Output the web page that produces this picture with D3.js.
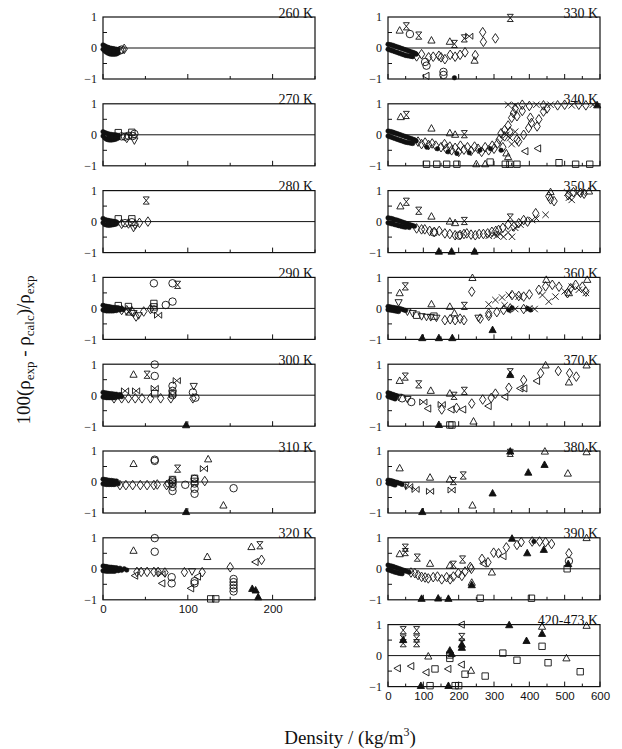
<!DOCTYPE html>
<html>
<head>
<meta charset="utf-8">
<script src="https://cdn.jsdelivr.net/npm/d3@7"></script>
<style>
  body { margin: 0; background: #fff; }
</style>
</head>
<body>
<div id="chart"></div>
<script>
// panel titles and tick labels
var leftTitles = ["260 K", "270 K", "280 K", "290 K", "300 K", "310 K", "320 K"];
var rightTitles = ["330 K", "340 K", "350 K", "360 K", "370 K", "380 K", "390 K", "420-473 K"];
var leftTicks = [0, 100, 200];
var rightTicks = [0, 100, 200, 300, 400, 500, 600];
var yTicks = [-1, 0, 1];

// points: [density, deviation %, symbol]
// o circle, d diamond, t triangle, T filled triangle, v down triangle, < left triangle,
// h hourglass, b bowtie, x cross, s square, . small filled marker
var p260 = [[0,0.1,"."],[0,-0.04,"."],[2,0.07,"."],[2,-0.1,"."],[4,0.04,"."],[4,-0.14,"."],[6,0.02,"."],[6,-0.17,"."],
  [8,0,"."],[8,-0.19,"."],[10,-0.01,"."],[10,-0.2,"."],[12,-0.02,"."],[12,-0.2,"."],[14,-0.03,"."],[14,-0.2,"."],
  [16,-0.04,"."],[16,-0.19,"."],[18,-0.05,"."],[18,-0.16,"."],[5,-0.08,"."],[9,-0.1,"."],[13,-0.11,"."],[17,-0.11,"."],
  [20,-0.08,"o"],[22,-0.05,"o"],[25,-0.03,"d"]];
var p270 = [[0,0.1,"."],[0,-0.04,"."],[2,0.07,"."],[2,-0.1,"."],[4,0.05,"."],[4,-0.14,"."],[6,0.03,"."],[6,-0.16,"."],
  [8,0.02,"."],[8,-0.17,"."],[10,0.01,"."],[10,-0.17,"."],[12,0,"."],[12,-0.16,"."],[14,0,"."],[14,-0.15,"."],
  [16,-0.01,"."],[16,-0.13,"."],[18,-0.02,"."],[18,-0.1,"."],[7,-0.07,"."],[11,-0.08,"."],[15,-0.07,"."],
  [18,0.07,"s"],[22,-0.05,"o"],[26,-0.06,"o"],[30,-0.03,"o"],[28,-0.1,"d"],[34,0.08,"s"],[35,-0.04,"o"],
  [37,0.03,"o"],[37,-0.18,"v"]];
var p280 = [[0,0.1,"."],[0,-0.04,"."],[2,0.07,"."],[2,-0.09,"."],[4,0.05,"."],[4,-0.11,"."],[6,0.04,"."],[6,-0.12,"."],
  [8,0.03,"."],[8,-0.12,"."],[10,0.02,"."],[10,-0.11,"."],[12,0.01,"."],[12,-0.1,"."],[14,0,"."],[14,-0.09,"."],
  [16,-0.01,"."],[16,-0.07,"."],[6,-0.04,"."],[11,-0.05,"."],
  [18,0.09,"s"],[22,-0.07,"d"],[26,-0.05,"o"],[30,-0.06,"d"],[34,0.09,"s"],[34,-0.02,"o"],[36,-0.2,"v"],
  [38,-0.09,"d"],[43,-0.04,"d"],[53,0,"d"],[51,0.68,"h"]];
var p290 = [[0,0.1,"."],[0,-0.05,"."],[2,0.08,"."],[2,-0.07,"."],[4,0.07,"."],[4,-0.08,"."],[6,0.06,"."],[6,-0.08,"."],
  [8,0.05,"."],[8,-0.08,"."],[10,0.04,"."],[10,-0.08,"."],[12,0.03,"."],[12,-0.08,"."],[14,0.03,"."],[14,-0.07,"."],
  [16,0.02,"."],[16,-0.07,"."],[18,0.02,"."],[20,-0.05,"."],[22,0,"."],[24,-0.04,"."],
  [18,0.09,"s"],[22,-0.05,"d"],[28,-0.06,"d"],[30,0.06,"s"],[30,-0.1,"h"],[34,-0.09,"d"],[36,-0.15,"v"],
  [39,-0.26,"d"],[42,-0.22,"v"],[48,-0.1,"d"],[56,-0.02,"d"],[60,0.16,"s"],[60,0.05,"s"],[60,-0.03,"o"],
  [60,0.81,"o"],[65,-0.22,"b"],[74,0.11,"o"],[82,0.22,"o"],[82,0.81,"o"],[88,0.76,"h"]];
var p300 = [[0,0.09,"."],[0,-0.06,"."],[2,0.08,"."],[2,-0.07,"."],[4,0.07,"."],[4,-0.08,"."],[6,0.06,"."],[6,-0.08,"."],
  [8,0.05,"."],[8,-0.08,"."],[10,0.05,"."],[10,-0.08,"."],[12,0.04,"."],[12,-0.08,"."],[14,0.03,"."],[14,-0.08,"."],
  [16,0.03,"."],[18,-0.06,"."],[20,0.02,"."],[22,-0.05,"."],
  [13,-0.1,"d"],[22,-0.1,"d"],[30,-0.1,"d"],[38,-0.1,"d"],[46,-0.1,"d"],[56,-0.1,"d"],[68,-0.1,"d"],[80,-0.1,"d"],
  [106,-0.1,"d"],[26,0.14,"b"],[39,0.14,"b"],[61,0.22,"b"],[87,0.47,"b"],[36,0.66,"t"],[52,0.66,"h"],
  [61,0.99,"o"],[61,0.62,"o"],[61,0.05,"s"],[82,0.3,"o"],[82,0.14,"o"],[82,0,"o"],[82,0.05,"s"],
  [107,0.3,"v"],[106,0.09,"o"],[109,-0.08,"o"],[98,-0.97,"T"]];
var p310 = [[0,0.09,"."],[0,-0.06,"."],[2,0.08,"."],[2,-0.07,"."],[4,0.07,"."],[4,-0.08,"."],[6,0.06,"."],[6,-0.08,"."],
  [8,0.05,"."],[8,-0.08,"."],[10,0.05,"."],[10,-0.08,"."],[12,0.04,"."],[12,-0.08,"."],[14,0.03,"."],[14,-0.08,"."],
  [16,0.03,"."],[18,-0.06,"."],
  [20,-0.1,"d"],[27,-0.1,"d"],[35,-0.1,"d"],[44,-0.1,"d"],[52,-0.1,"d"],[60,-0.1,"d"],[64,-0.08,"d"],[75,-0.1,"d"],
  [78,-0.05,"o"],[36,0.58,"t"],[61,0.72,"o"],[61,0.68,"o"],[88,0.43,"h"],[124,0.73,"t"],[119,0.43,"b"],
  [120,0.03,"d"],[82,0.05,"o"],[82,-0.05,"o"],[82,-0.16,"o"],[82,-0.29,"o"],[82,0.08,"s"],[82,0,"s"],
  [108,0.1,"o"],[108,-0.05,"o"],[108,-0.22,"o"],[108,-0.38,"o"],[108,0.12,"s"],[108,0.02,"s"],
  [97,-0.09,"o"],[154,-0.2,"o"],[142,-0.76,"t"],[98,-0.97,"T"]];
var p320 = [[0,0.09,"."],[0,-0.06,"."],[2,0.08,"."],[2,-0.07,"."],[4,0.07,"."],[4,-0.08,"."],[6,0.06,"."],[6,-0.08,"."],
  [8,0.05,"."],[8,-0.08,"."],[10,0.05,"."],[10,-0.08,"."],[12,0.04,"."],[12,-0.08,"."],[14,0.03,"."],[14,-0.08,"."],
  [16,0.03,"."],[18,-0.06,"."],[20,0.02,"."],[22,-0.05,"."],[25,0,"."],[28,-0.04,"."],
  [36,0.58,"t"],[61,0.99,"o"],[61,0.55,"o"],[123,0.38,"t"],[175,0.7,"t"],[185,0.76,"h"],[187,0.29,"d"],
  [180,0.22,"<"],[150,0.05,"d"],[154,-0.33,"o"],[154,-0.43,"o"],[154,-0.53,"o"],[154,-0.63,"o"],[154,-0.73,"o"],
  [176,-0.65,"T"],[180,-0.7,"T"],[183,-0.92,"T"],[127,-0.97,"s"],[133,-0.97,"s"],[104,-0.63,"<"],
  [108,-0.4,"o"],[108,-0.47,"o"],[69,-0.16,"b"],[81,-0.27,"o"],[81,-0.47,"o"],[70,-0.47,"<"],[38,-0.22,"<"],
  [40,-0.1,"d"],[45,-0.1,"d"],[52,-0.1,"d"],[60,-0.1,"d"],[65,-0.1,"d"],[73,-0.12,"d"],[96,-0.11,"d"],
  [117,-0.11,"d"],[105,-0.08,"v"],[112,-0.25,"<"]];

var p330 = [[0,0.12,"."],[0,-0.04,"."],[5,0.11,"."],[5,-0.06,"."],[10,0.1,"."],[10,-0.08,"."],[15,0.08,"."],[15,-0.1,"."],
  [20,0.06,"."],[20,-0.12,"."],[25,0.04,"."],[25,-0.14,"."],[30,0.02,"."],[30,-0.16,"."],[35,0,"."],[35,-0.18,"."],
  [40,-0.02,"."],[40,-0.2,"."],[45,-0.04,"."],[45,-0.22,"."],[50,-0.06,"."],[50,-0.24,"."],[55,-0.08,"."],
  [55,-0.25,"."],[60,-0.1,"."],[60,-0.26,"."],[65,-0.12,"."],[65,-0.27,"."],[70,-0.14,"."],[70,-0.28,"."],
  [75,-0.16,"."],[80,-0.2,"."],
  [33,0.56,"t"],[52,0.7,"h"],[62,0.45,"o"],[87,0.4,"h"],[123,0.24,"t"],[175,0.2,"t"],[188,0.13,"h"],
  [216,0.31,"h"],[230,0.38,"b"],[268,0.51,"d"],[270,0.2,"d"],[304,0.31,"d"],[218,-0.14,"d"],[247,-0.23,"d"],
  [245,-0.41,"t"],[346,0.97,"h"],[81,-0.27,"d"],[95,-0.2,"d"],[115,-0.3,"d"],[128,-0.28,"d"],[144,-0.25,"d"],
  [150,-0.3,"d"],[161,-0.36,"d"],[176,-0.22,"d"],[190,-0.28,"d"],[204,-0.22,"d"],[109,-0.57,"o"],
  [105,-0.45,"o"],[157,-0.77,"o"],[157,-0.87,"o"],[188,-0.96,"."],[109,-0.9,"<"]];
var p340 = [[0,0.12,"."],[0,-0.04,"."],[5,0.11,"."],[5,-0.06,"."],[10,0.1,"."],[10,-0.08,"."],[15,0.08,"."],[15,-0.1,"."],
  [20,0.06,"."],[20,-0.12,"."],[25,0.04,"."],[25,-0.14,"."],[30,0.02,"."],[30,-0.16,"."],[35,0,"."],[35,-0.18,"."],
  [40,-0.02,"."],[40,-0.2,"."],[45,-0.04,"."],[45,-0.22,"."],[50,-0.06,"."],[50,-0.24,"."],[55,-0.08,"."],
  [55,-0.25,"."],[60,-0.1,"."],[60,-0.26,"."],[65,-0.12,"."],[65,-0.27,"."],[70,-0.14,"."],[70,-0.28,"."],
  [75,-0.16,"."],[80,-0.2,"."],
  [36,0.57,"t"],[52,0.64,"h"],[123,0.2,"t"],[175,0.05,"t"],[216,0.02,"h"],[190,0,"t"],
  [85,-0.22,"d"],[95,-0.3,"d"],[105,-0.25,"d"],[115,-0.33,"d"],[125,-0.28,"d"],[135,-0.35,"d"],[150,-0.4,"d"],
  [160,-0.3,"d"],[165,-0.45,"d"],[175,-0.38,"d"],[180,-0.5,"d"],[190,-0.42,"d"],[200,-0.55,"d"],[205,-0.35,"d"],
  [215,-0.48,"d"],[225,-0.4,"d"],[235,-0.52,"d"],[245,-0.38,"d"],[255,-0.45,"d"],[265,-0.55,"d"],[275,-0.4,"d"],
  [285,-0.5,"d"],[295,-0.35,"d"],[300,-0.45,"d"],[310,-0.28,"d"],[315,-0.15,"d"],[325,-0.4,"d"],[330,-0.05,"d"],
  [110,-0.4,"."],[140,-0.45,"."],[170,-0.55,"."],[195,-0.6,"."],[230,-0.58,"."],[260,-0.5,"."],[290,-0.45,"."],
  [320,-0.5,"."],[320,0.05,"d"],[330,0.15,"d"],[340,0.3,"d"],[350,0.55,"d"],[355,0.7,"d"],[360,0.85,"d"],
  [345,0.1,"d"],[335,0,"x"],[345,-0.1,"x"],[350,-0.3,"x"],[360,0.1,"x"],[365,-0.15,"d"],[370,-0.22,"d"],
  [384,0,"d"],[398,0.22,"d"],[406,0.38,"d"],[403,0.55,"d"],[422,0.27,"d"],[427,0.5,"d"],[380,0.77,"d"],
  [365,0.6,"d"],[440,0.75,"d"],[450,0.85,"d"],[340,0.97,"x"],[360,0.95,"x"],[380,0.97,"d"],[400,0.93,"d"],
  [420,0.97,"x"],[440,0.95,"d"],[460,0.97,"x"],[480,0.95,"d"],[500,0.97,"d"],[520,0.95,"x"],[540,0.97,"d"],
  [560,0.95,"d"],[580,0.97,"x"],[592,0.95,"T"],[389,-0.53,"<"],[425,-0.44,"<"],[340,-0.72,"t"],[335,-0.6,"t"],
  [109,-0.95,"s"],[138,-0.95,"s"],[166,-0.95,"s"],[195,-0.95,"s"],[250,-0.95,"t"],[275,-0.95,"t"],
  [289,-0.88,"s"],[332,-0.95,"s"],[345,-0.95,"s"],[365,-0.95,"s"],[484,-0.9,"s"],[531,-0.95,"s"],[571,-0.95,"s"]];
var p350 = [[0,0.12,"."],[0,-0.04,"."],[5,0.11,"."],[5,-0.05,"."],[10,0.1,"."],[10,-0.07,"."],[15,0.08,"."],[15,-0.08,"."],
  [20,0.06,"."],[20,-0.1,"."],[25,0.05,"."],[25,-0.11,"."],[30,0.03,"."],[30,-0.13,"."],[35,0.01,"."],[35,-0.14,"."],
  [40,-0.01,"."],[40,-0.16,"."],[45,-0.03,"."],[45,-0.17,"."],[50,-0.05,"."],[50,-0.18,"."],[55,-0.07,"."],
  [60,-0.09,"."],[60,-0.19,"."],[65,-0.11,"."],[70,-0.13,"."],[75,-0.15,"."],
  [35,0.49,"t"],[52,0.64,"h"],[87,0.35,"h"],[123,0.16,"t"],[175,0,"t"],[216,0.02,"h"],[190,-0.05,"t"],
  [81,-0.22,"d"],[95,-0.25,"d"],[104,-0.25,"d"],[118,-0.3,"d"],[131,-0.33,"d"],[145,-0.3,"d"],[161,-0.38,"d"],
  [175,-0.4,"d"],[190,-0.44,"d"],[204,-0.43,"d"],[215,-0.4,"d"],[223,-0.38,"d"],[235,-0.42,"d"],[247,-0.44,"d"],
  [258,-0.4,"d"],[270,-0.4,"d"],[282,-0.38,"d"],[294,-0.33,"d"],[305,-0.3,"d"],[313,-0.27,"d"],[325,-0.2,"d"],
  [340,-0.1,"d"],[130,-0.35,"o"],[200,-0.45,"o"],[285,-0.46,"x"],[300,-0.42,"x"],[308,-0.46,"x"],[318,-0.4,"x"],
  [327,-0.49,"x"],[340,-0.35,"x"],[351,-0.49,"x"],[360,-0.2,"x"],[375,-0.1,"x"],[346,0.13,"h"],[356,-0.16,"d"],
  [370,-0.05,"d"],[384,0.05,"d"],[395,0,"d"],[418,0.27,"d"],[455,0.82,"d"],[470,0.66,"d"],[460,0.72,"d"],
  [408,0.05,"x"],[420,0.1,"x"],[446,0.22,"x"],[508,0.93,"x"],[512,0.77,"x"],[520,0.7,"x"],[550,0.93,"x"],
  [535,0.9,"x"],[569,0.97,"t"],[460,0.95,"t"],[510,0.85,"d"],[525,0.95,"d"],[545,0.93,"d"],[555,0.9,"d"],
  [144,-0.97,"T"],[180,-0.97,"T"],[245,-0.97,"T"]];
var p360 = [[0,0.06,"."],[0,-0.04,"."],[5,0.05,"."],[5,-0.05,"."],[10,0.04,"."],[10,-0.06,"."],[15,0.03,"."],[15,-0.07,"."],
  [20,0.02,"."],[20,-0.08,"."],[25,0.01,"."],[25,-0.09,"."],[30,0,"."],[30,-0.1,"."],[35,-0.01,"."],[40,-0.03,"."],
  [45,-0.05,"."],[50,-0.07,"."],
  [33,0.49,"t"],[49,0.71,"h"],[30,0.2,"v"],[123,0.13,"t"],[175,0.05,"t"],[216,0.08,"h"],[239,0.98,"t"],
  [237,0.54,"d"],[188,-0.16,"t"],[55,-0.1,"v"],[70,-0.15,"v"],[81,-0.22,"s"],[95,-0.25,"v"],[109,-0.27,"v"],
  [121,-0.28,"v"],[137,-0.3,"v"],[130,-0.25,"s"],[161,-0.38,"d"],[176,-0.35,"d"],[190,-0.38,"d"],[204,-0.33,"d"],
  [215,-0.38,"d"],[256,-0.3,"v"],[261,-0.33,"d"],[285,-0.24,"d"],[296,-0.7,"T"],[285,0.13,"x"],[304,0.27,"x"],
  [323,0.35,"x"],[342,0.43,"x"],[437,0.43,"x"],[474,0.38,"x"],[455,0.22,"x"],[370,0.38,"x"],[500,0.55,"x"],
  [520,0.7,"x"],[540,0.6,"x"],[560,0.5,"x"],[351,0.43,"d"],[370,0.4,"d"],[384,0.38,"d"],[400,0.45,"d"],
  [427,0.6,"d"],[446,0.71,"d"],[465,0.76,"d"],[484,0.7,"d"],[508,0.49,"d"],[517,0.65,"d"],[531,0.76,"d"],
  [550,0.7,"d"],[560,0.54,"d"],[285,-0.16,"d"],[308,-0.12,"d"],[327,-0.05,"d"],[346,0,"d"],[384,-0.02,"d"],
  [360,-0.02,"x"],[400,0,"x"],[415,-0.02,"x"],[330,0.1,"x"],[342,-0.05,"."],[351,0.02,"."],[403,-0.05,"."],
  [395,0,"."],[564,0.92,"t"],[448,0.92,"t"],[512,0.49,"t"],[97,-0.96,"T"],[144,-0.96,"T"],[182,-0.96,"T"]];
var p370 = [[0,0.08,"."],[0,-0.04,"."],[5,0.06,"."],[5,-0.06,"."],[10,0.04,"."],[10,-0.08,"."],[15,0.02,"."],
  [15,-0.1,"."],[20,0,"."],[20,-0.12,"."],[25,-0.02,"."],[30,-0.05,"v"],[40,-0.1,"o"],
  [33,0.46,"t"],[49,0.6,"h"],[87,0.35,"h"],[121,0.14,"t"],[175,0.05,"t"],[187,-0.02,"h"],[216,0.14,"h"],
  [55,-0.12,"v"],[66,-0.22,"o"],[100,-0.22,"b"],[114,-0.43,"<"],[152,-0.3,"b"],[152,-0.46,"d"],[180,-0.46,"<"],
  [194,-0.41,"d"],[213,-0.46,"<"],[237,-0.27,"d"],[268,-0.14,"d"],[285,-0.35,"<"],[292,-0.09,"d"],[304,0.05,"d"],
  [332,-0.05,"<"],[342,0.24,"d"],[346,0.74,"h"],[346,0.65,"T"],[384,0.49,"d"],[375,0.22,"<"],[386,0.22,"<"],
  [422,0.46,"<"],[432,0.71,"d"],[446,0.96,"t"],[482,0.78,"d"],[514,0.71,"d"],[512,0.41,"t"],[533,0.6,"d"],
  [562,0.96,"t"],[144,-0.96,"T"],[175,-0.96,"s"],[181,-0.96,"s"],[242,-0.85,"t"]];
var p380 = [[0,0.06,"."],[0,-0.04,"."],[5,0.05,"."],[5,-0.05,"."],[10,0.04,"."],[10,-0.06,"."],[15,0.02,"."],
  [15,-0.08,"."],[20,0,"."],[20,-0.1,"."],[25,-0.01,"."],[30,-0.03,"."],[35,-0.05,"."],[40,-0.08,"."],
  [50,-0.1,"v"],[60,-0.15,"b"],[33,0.44,"t"],[119,0.14,"t"],[175,0.08,"t"],[185,0.03,"h"],[213,0.21,"h"],
  [78,-0.24,"b"],[119,-0.3,"b"],[180,-0.26,"b"],[239,-0.76,"t"],[296,-0.37,"T"],[346,0.94,"h"],[346,0.98,"T"],
  [397,0.3,"T"],[443,0.55,"T"],[444,0.98,"t"],[509,0.27,"t"],[562,0.96,"t"],[97,-0.97,"T"]];
var p390 = [[0,0.12,"."],[0,-0.03,"."],[5,0.1,"."],[5,-0.05,"."],[10,0.09,"."],[10,-0.07,"."],[15,0.07,"."],[15,-0.09,"."],
  [20,0.05,"."],[20,-0.11,"."],[25,0.03,"."],[25,-0.12,"."],[30,0.01,"."],[30,-0.14,"."],[35,-0.01,"."],[35,-0.15,"."],
  [40,-0.03,"."],[40,-0.16,"."],[45,-0.05,"."],[50,-0.07,"."],[55,-0.09,"."],[60,-0.11,"."],[65,-0.12,"d"],
  [33,0.47,"t"],[49,0.68,"h"],[49,0.54,"h"],[83,0.36,"h"],[119,0.16,"t"],[175,0.1,"t"],[185,0.13,"h"],
  [211,0.3,"h"],[237,-0.53,"T"],[237,-0.45,"t"],[76,-0.14,"d"],[85,-0.2,"d"],[95,-0.26,"d"],[105,-0.28,"d"],
  [114,-0.31,"d"],[128,-0.27,"d"],[140,-0.25,"d"],[152,-0.34,"d"],[166,-0.27,"d"],[176,-0.34,"d"],[185,-0.25,"d"],
  [199,-0.14,"d"],[209,-0.23,"d"],[218,-0.09,"d"],[233,0.06,"d"],[236,0,"d"],[266,0.32,"d"],[271,0.17,"<"],
  [283,0.21,"d"],[294,-0.12,"t"],[299,0.52,"d"],[313,0.5,"d"],[327,0.41,"<"],[335,0.69,"d"],[351,0.97,"T"],
  [365,0.77,"d"],[377,0.86,"d"],[394,0.5,"T"],[408,0.88,"d"],[413,0.88,"."],[429,0.88,"d"],[441,0.61,"T"],
  [446,0.86,"d"],[463,0.8,"d"],[562,0.99,"t"],[512,0.5,"d"],[512,0.25,"o"],[510,0.15,"T"],[507,0,"s"],
  [95,-0.97,"T"],[142,-0.96,"T"],[171,-0.97,"T"],[261,-0.95,"s"],[406,-0.95,"s"]];
var p420 = [[43,0.82,"h"],[43,0.55,"h"],[43,0.4,"h"],[43,0.5,"T"],[81,0.82,"h"],[81,0.55,"h"],[81,0.4,"h"],
  [209,0.6,"h"],[209,0.42,"h"],[209,0.25,"T"],[209,0.35,"T"],[175,0.16,"T"],[175,0.02,"s"],[175,-0.09,"s"],
  [180,0.05,"T"],[114,-0.03,"t"],[28,-0.41,"<"],[66,-0.34,"<"],[109,-0.54,"<"],[171,-0.43,"<"],[209,-0.29,"<"],
  [133,-0.43,"s"],[218,-0.6,"s"],[235,-0.49,"t"],[275,-0.66,"s"],[325,0.08,"s"],[365,-0.15,"s"],[343,0.98,"T"],
  [392,0.47,"T"],[436,0.3,"s"],[436,0.7,"T"],[436,0.93,"t"],[453,-0.23,"s"],[505,-0.09,"t"],[544,-0.52,"s"],
  [562,0.96,"t"],[209,1,"<"],[93,-0.98,"T"],[119,-0.97,"s"],[190,-0.97,"s"],[171,-0.98,"T"],[200,-0.97,"s"]];

var leftData = [p260, p270, p280, p290, p300, p310, p320];
var rightData = [p330, p340, p350, p360, p370, p380, p390, p420];

var width = 622, height = 749;
var top0 = 17, pitch = 86.8, panelH = 62;
var ink = "#111";

var svg = d3.select("#chart").append("svg")
    .attr("width", width)
    .attr("height", height);

var xLeft = d3.scaleLinear().domain([0, 250]).range([103, 315]);
var xRight = d3.scaleLinear().domain([0, 600]).range([388, 600]);

// marker outlines, in pixels around the point
var shapes = {
    "d": "M0,-4.8L3.2,0L0,4.8L-3.2,0Z",
    "t": "M0,-4L3.6,2.5L-3.6,2.5Z",
    "T": "M0,-4L3.6,2.5L-3.6,2.5Z",
    "v": "M0,4L3.6,-2.5L-3.6,-2.5Z",
    "<": "M-4,0L2.5,-3.6L2.5,3.6Z",
    "h": "M-3,-3.6L3,-3.6L-3,3.6L3,3.6Z",
    "b": "M-3.6,-3L-3.6,3L3.6,-3L3.6,3Z",
    "x": "M-3.2,-3.2L3.2,3.2M-3.2,3.2L3.2,-3.2",
    "s": "M-3.2,-3.2H3.2V3.2H-3.2Z",
    "o": d3.symbol(d3.symbolCircle, 44)(),
    ".": d3.symbol(d3.symbolCircle, 16)()
};

function drawPanel(x, data, title, i, ticks, last) {
    var top = top0 + i * pitch;
    var y = d3.scaleLinear().domain([-1, 1]).range([top + panelH, top]);
    var g = svg.append("g");
    var x0 = x.range()[0], x1 = x.range()[1];

    // zero line
    g.append("line")
        .attr("x1", x0).attr("x2", x1)
        .attr("y1", y(0)).attr("y2", y(0))
        .attr("stroke", ink).attr("stroke-width", 1);

    // inner ticks along the bottom
    var minor = d3.range(0, x.domain()[1] + 1, 50);
    g.selectAll("line.xt").data(minor).enter().append("line")
        .attr("x1", function (d) { return x(d); })
        .attr("x2", function (d) { return x(d); })
        .attr("y1", top + panelH)
        .attr("y2", function (d) { return top + panelH - (d % 100 === 0 ? 5 : 3); })
        .attr("stroke", ink).attr("stroke-width", 1);

    // inner ticks on the left at +-0.5
    g.selectAll("line.yt").data([-0.5, 0.5]).enter().append("line")
        .attr("x1", x0).attr("x2", x0 + 4)
        .attr("y1", function (d) { return y(d); })
        .attr("y2", function (d) { return y(d); })
        .attr("stroke", ink).attr("stroke-width", 1);

    // y tick labels
    var ya = g.append("g")
        .attr("transform", "translate(" + x0 + ",0)")
        .call(d3.axisLeft(y).tickValues(yTicks).tickSize(0).tickPadding(6)
            .tickFormat(function (d) { return d < 0 ? "\u22121" : d; }));
    ya.select(".domain").remove();
    ya.selectAll("text").attr("font-family", "Liberation Serif").attr("font-size", 12).attr("fill", ink);

    if (last) {
        var xa = g.append("g")
            .attr("transform", "translate(0," + (top + panelH) + ")")
            .call(d3.axisBottom(x).tickValues(ticks).tickSize(0).tickPadding(5));
        xa.select(".domain").remove();
        xa.selectAll("text").attr("font-family", "Liberation Sans").attr("font-size", 11.5).attr("fill", ink);
    }

    // points
    g.selectAll("path.pt").data(data).enter().append("path")
        .attr("d", function (d) { return shapes[d[2]]; })
        .attr("transform", function (d) { return "translate(" + x(d[0]) + "," + y(d[1]) + ")"; })
        .attr("fill", function (d) { return d[2] === "T" || d[2] === "." ? ink : "none"; })
        .attr("stroke", ink)
        .attr("stroke-width", function (d) { return d[2] === "." ? 0.5 : 0.9; });

    // frame
    g.append("rect")
        .attr("x", x0).attr("y", top)
        .attr("width", x1 - x0).attr("height", panelH)
        .attr("fill", "none").attr("stroke", ink).attr("stroke-width", 1.2);

    // panel title sitting on the top edge
    g.append("text")
        .attr("x", x1 - 2).attr("y", top + 0.5)
        .attr("text-anchor", "end")
        .attr("font-family", "Liberation Serif").attr("font-size", 14)
        .attr("fill", ink)
        .text(title);
}

leftData.forEach(function (d, i) {
    drawPanel(xLeft, d, leftTitles[i], i, leftTicks, i === leftData.length - 1);
});
rightData.forEach(function (d, i) {
    drawPanel(xRight, d, rightTitles[i], i, rightTicks, i === rightData.length - 1);
});

// y axis title
var yl = svg.append("text")
    .attr("transform", "translate(30,350) rotate(-90)")
    .attr("text-anchor", "middle")
    .attr("font-family", "Liberation Serif").attr("font-size", 19)
    .attr("fill", ink);
yl.append("tspan").text("100(\u03c1");
yl.append("tspan").attr("font-size", 13).attr("dy", 4).text("exp");
yl.append("tspan").attr("dy", -4).text(" - \u03c1");
yl.append("tspan").attr("font-size", 13).attr("dy", 4).text("calc");
yl.append("tspan").attr("dy", -4).text(")/\u03c1");
yl.append("tspan").attr("font-size", 13).attr("dy", 4).text("exp");

// x axis title
var xl = svg.append("text")
    .attr("x", 350).attr("y", 744)
    .attr("text-anchor", "middle")
    .attr("font-family", "Liberation Serif").attr("font-size", 19)
    .attr("fill", ink);
xl.append("tspan").text("Density / (kg/m");
xl.append("tspan").attr("font-size", 12).attr("dy", -8).text("3");
xl.append("tspan").attr("dy", 8).text(")");
</script>
</body>
</html>
